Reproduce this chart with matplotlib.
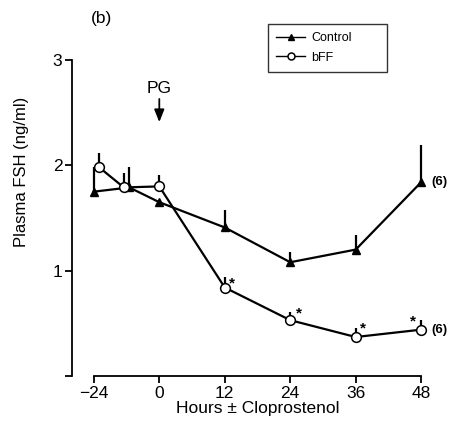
import numpy as np
from matplotlib import pyplot as plt

plt.rcParams['font.family'] = ['Liberation Sans', 'DejaVu Sans']

# sampling times (h relative to cloprostenol) and plasma FSH (ng/ml), mean and +SE top
ctrl_hours = [-24, -11, 0, 12, 24, 36, 48]
ctrl_fsh = [1.75, 1.79, 1.65, 1.41, 1.08, 1.20, 1.84]
ctrl_top = [1.98, 1.98, 1.65, 1.58, 1.18, 1.34, 2.19]

bff_hours = [-22, -13, 0, 12, 24, 36, 48]
bff_fsh = [1.98, 1.79, 1.80, 0.84, 0.53, 0.37, 0.44]
bff_top = [2.12, 1.93, 1.91, 0.94, 0.61, 0.46, 0.53]

# significant bFF points (hours) marked with *
sig_hours = [12, 24, 36, 48]
n_animals = "(6)"

x_ticks = [-24, 0, 12, 24, 36, 48]
x_labels = ["\u221224", "0", "12", "24", "36", "48"]
y_ticks = [0, 1, 2, 3]
y_labels = ["", "1", "2", "3"]


# pre-treatment period drawn at half scale
def fwd(h):
    h = np.asarray(h, dtype=float)
    return np.where(h < 0, h / 2, h)


def inv(p):
    p = np.asarray(p, dtype=float)
    return np.where(p < 0, p * 2, p)


fig = plt.figure(figsize=(4.63, 4.25), dpi=100)
ax = fig.add_axes([72 / 463, 49 / 425, (443 - 72) / 463, (376 - 60) / 425])
ax.set_xscale('function', functions=(fwd, inv))

lw = 1.6
ax.vlines(ctrl_hours, ctrl_fsh, ctrl_top, color='black', lw=lw, zorder=2)
ax.vlines(bff_hours, bff_fsh, bff_top, color='black', lw=lw, zorder=2)
ax.plot(ctrl_hours, ctrl_fsh, color='black', lw=lw, marker='^', ms=6,
        mfc='black', mec='black', zorder=3, label='Control')
ax.plot(bff_hours, bff_fsh, color='black', lw=lw, marker='o', ms=7,
        mfc='white', mec='black', mew=1.1, zorder=4, label='bFF')

star_off = [(5, 3), (6, 5), (5, 6), (-6, 6)]
for h, off in zip(sig_hours, star_off):
    y = bff_fsh[bff_hours.index(h)]
    ax.annotate("*", (h, y), xytext=off, textcoords='offset points',
                ha='center', va='center', fontsize=11, fontweight='bold')

ax.annotate(n_animals, (ctrl_hours[-1], ctrl_fsh[-1]), xytext=(7, 0),
            textcoords='offset points', ha='left', va='center',
            fontsize=9.5, fontweight='bold')
ax.annotate(n_animals, (bff_hours[-1], bff_fsh[-1]), xytext=(7, 0),
            textcoords='offset points', ha='left', va='center',
            fontsize=9.5, fontweight='bold')

# PG injection arrow
ax.annotate("", xy=(0, 2.41), xytext=(0, 2.63),
            arrowprops=dict(arrowstyle='-|>,head_width=0.3,head_length=0.75',
                            color='black', lw=1.3, shrinkA=0, shrinkB=0))
ax.text(0, 2.73, "PG", ha='center', va='center', fontsize=12.5)

ax.set_xlim(-32, 52)
ax.set_ylim(0, 3)
ax.set_xticks(x_ticks)
ax.set_xticklabels(x_labels)
ax.set_yticks(y_ticks)
ax.set_yticklabels(y_labels)
ax.minorticks_off()

for s in ['top', 'right']:
    ax.spines[s].set_visible(False)
ax.spines['left'].set_linewidth(1.3)
ax.spines['bottom'].set_linewidth(1.3)
ax.spines['bottom'].set_bounds(-24, 48)
ax.tick_params(axis='both', width=1.3, length=5, labelsize=12.5, pad=2)

ax.set_xlabel("Hours \u00b1 Cloprostenol", fontsize=12.5, labelpad=0)
fig.text(22 / 463, 1 - 172 / 425, "Plasma FSH (ng/ml)", rotation=90,
         ha='center', va='center', fontsize=12)
fig.text(102 / 463, 1 - 18 / 425, "(b)", ha='center', va='center', fontsize=12.5)

leg = ax.legend(loc='upper left',
                bbox_to_anchor=(268 / 463, 1 - 68 / 425, 119 / 463, 44 / 425),
                bbox_transform=fig.transFigure, mode='expand', fontsize=9,
                frameon=True, fancybox=False, edgecolor='black',
                handlelength=2.3, borderpad=0.65, labelspacing=0.6,
                handletextpad=0.5, borderaxespad=0)
leg.get_frame().set_linewidth(1.0)
for line in leg.get_lines():
    line.set_linewidth(1.0)
    line.set_markersize(5)

fig.savefig("out.png", dpi=100)
